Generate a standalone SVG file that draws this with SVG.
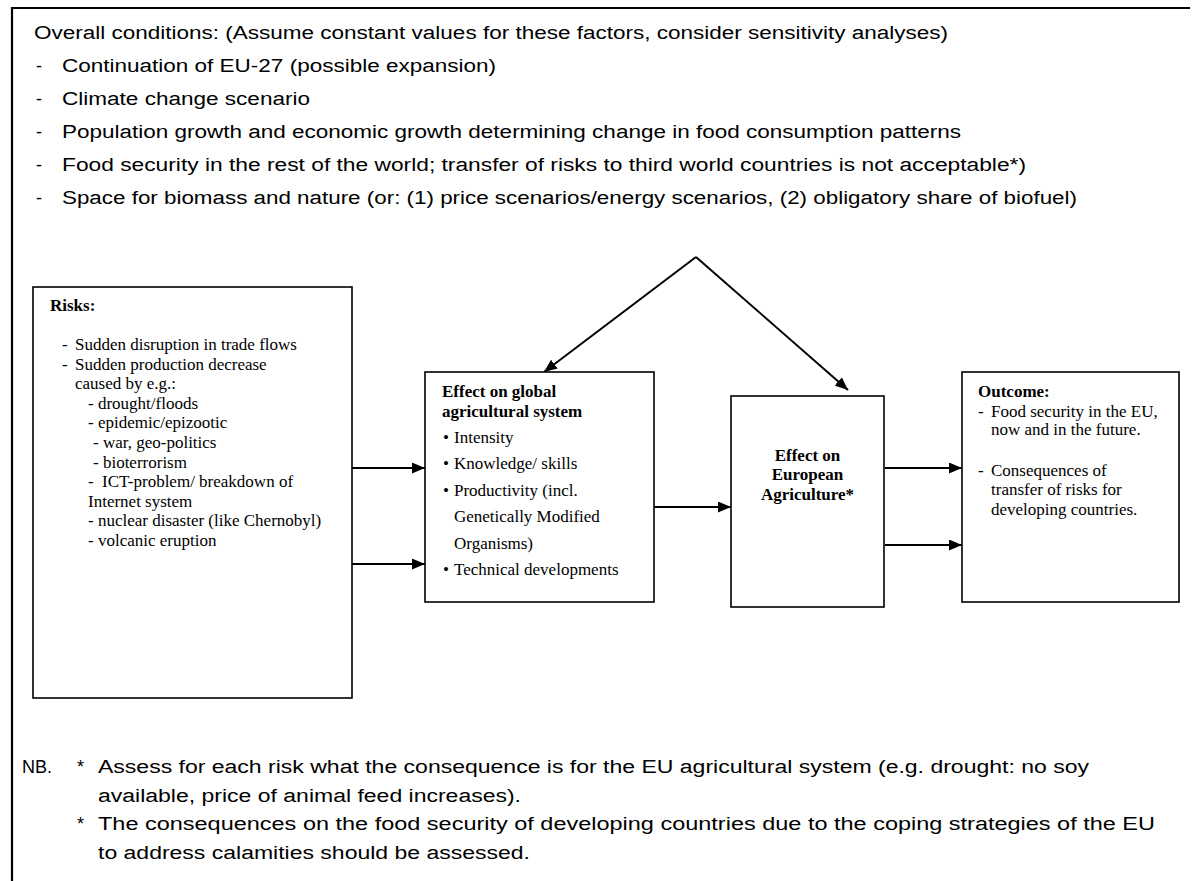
<svg xmlns="http://www.w3.org/2000/svg" width="1194" height="881" viewBox="0 0 1194 881">
<style>
.sans{font-family:"Liberation Sans",Arial,sans-serif;font-size:18px;fill:#000}
.serif{font-family:"Liberation Serif","Times New Roman",serif;font-size:17px;fill:#000}
.b{font-weight:bold}
.box{fill:#fff;stroke:#000;stroke-width:1.6}
.frame{fill:none;stroke:#000;stroke-width:2.2}
.conn{fill:none;stroke:#000;stroke-width:2}
</style>
<defs>
<marker id="ah" markerUnits="userSpaceOnUse" markerWidth="13" markerHeight="11" refX="13" refY="5.5" orient="auto">
<path d="M0,0 L13,5.5 L0,11 z" fill="#000"/>
</marker>
</defs>
<rect width="1194" height="881" fill="#fff"/>
<path class="frame" d="M1190,8 H12 V881"/>
<g id="conditions" class="sans">
<text x="34" y="38.5" textLength="914" lengthAdjust="spacingAndGlyphs">Overall conditions: (Assume constant values for these factors, consider sensitivity analyses)</text>
<text x="36" y="71.5">-</text>
<text x="62" y="71.5" textLength="434" lengthAdjust="spacingAndGlyphs">Continuation of EU-27 (possible expansion)</text>
<text x="36" y="104.5">-</text>
<text x="62" y="104.5" textLength="248" lengthAdjust="spacingAndGlyphs">Climate change scenario</text>
<text x="36" y="137.5">-</text>
<text x="62" y="137.5" textLength="899" lengthAdjust="spacingAndGlyphs">Population growth and economic growth determining change in food consumption patterns</text>
<text x="36" y="170.5">-</text>
<text x="62" y="170.5" textLength="964" lengthAdjust="spacingAndGlyphs">Food security in the rest of the world; transfer of risks to third world countries is not acceptable*)</text>
<text x="36" y="203.5">-</text>
<text x="62" y="203.5" textLength="1015" lengthAdjust="spacingAndGlyphs">Space for biomass and nature (or: (1) price scenarios/energy scenarios, (2) obligatory share of biofuel)</text>
</g>
<g id="connectors">
<line class="conn" x1="352" y1="468" x2="425" y2="468" marker-end="url(#ah)"/>
<line class="conn" x1="352" y1="564" x2="425" y2="564" marker-end="url(#ah)"/>
<line class="conn" x1="652" y1="507" x2="731" y2="507" marker-end="url(#ah)"/>
<line class="conn" x1="885" y1="468" x2="962" y2="468" marker-end="url(#ah)"/>
<line class="conn" x1="885" y1="545" x2="962" y2="545" marker-end="url(#ah)"/>
<line class="conn" x1="696" y1="257" x2="544" y2="372" marker-end="url(#ah)"/>
<line class="conn" x1="696" y1="257" x2="848" y2="390" marker-end="url(#ah)"/>
</g>
<g id="risks">
<rect class="box" x="33" y="287" width="319" height="411"/>
<text class="serif b" x="50" y="311">Risks:</text>
<g class="serif">
<text x="62" y="350">-</text><text x="75" y="350">Sudden disruption in trade flows</text>
<text x="62" y="369.6">-</text><text x="75" y="369.6">Sudden production decrease</text>
<text x="75" y="389.2">caused by e.g.:</text>
<text x="88" y="408.8">- drought/floods</text>
<text x="88" y="428.4">- epidemic/epizootic</text>
<text x="93" y="448">- war, geo-politics</text>
<text x="93" y="467.6">- bioterrorism</text>
<text x="88" y="487.2">-</text><text x="102" y="487.2">ICT-problem/ breakdown of</text>
<text x="88" y="506.8">Internet system</text>
<text x="88" y="526.4">- nuclear disaster (like Chernobyl)</text>
<text x="88" y="546">- volcanic eruption</text>
</g>
</g>
<g id="global">
<rect class="box" x="425" y="372" width="229" height="230"/>
<text class="serif b" x="442" y="397">Effect on global</text>
<text class="serif b" x="442" y="416.5">agricultural system</text>
<g class="serif">
<text x="443" y="443">•</text><text x="454" y="443">Intensity</text>
<text x="443" y="469">•</text><text x="454" y="469">Knowledge/ skills</text>
<text x="443" y="495.5">•</text><text x="454" y="495.5">Productivity (incl.</text>
<text x="454" y="522">Genetically Modified</text>
<text x="454" y="548.5">Organisms)</text>
<text x="443" y="575">•</text><text x="454" y="575">Technical developments</text>
</g>
</g>
<g id="european">
<rect class="box" x="731" y="396" width="153" height="211"/>
<g class="serif b" text-anchor="middle">
<text x="807.5" y="460.5">Effect on</text>
<text x="807.5" y="480">European</text>
<text x="807.5" y="499.5">Agriculture*</text>
</g>
</g>
<g id="outcome">
<rect class="box" x="962" y="372" width="217" height="230"/>
<text class="serif b" x="978" y="397">Outcome:</text>
<g class="serif">
<text x="978" y="416.5">-</text><text x="991" y="416.5">Food security in the EU,</text>
<text x="991" y="435">now and in the future.</text>
<text x="978" y="475.5">-</text><text x="991" y="475.5">Consequences of</text>
<text x="991" y="494.5">transfer of risks for</text>
<text x="991" y="514.5">developing countries.</text>
</g>
</g>
<g id="notes" class="sans">
<text x="22" y="773">NB.</text>
<text x="77" y="773">*</text>
<text x="98" y="773" textLength="991" lengthAdjust="spacingAndGlyphs">Assess for each risk what the consequence is for the EU agricultural system (e.g. drought: no soy</text>
<text x="98" y="801.5" textLength="423" lengthAdjust="spacingAndGlyphs">available, price of animal feed increases).</text>
<text x="77" y="830">*</text>
<text x="98" y="830" textLength="1057" lengthAdjust="spacingAndGlyphs">The consequences on the food security of developing countries due to the coping strategies of the EU</text>
<text x="98" y="858.5" textLength="432" lengthAdjust="spacingAndGlyphs">to address calamities should be assessed.</text>
</g>
</svg>
